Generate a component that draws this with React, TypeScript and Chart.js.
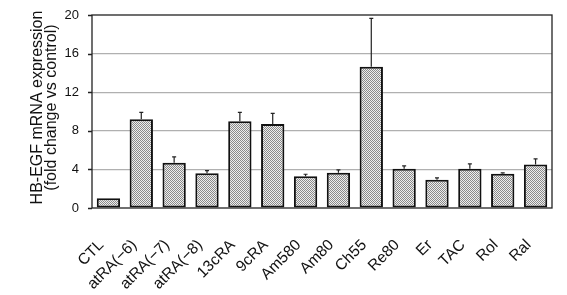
import React, { useEffect, useRef } from "react";
import { Chart, registerables } from "chart.js";

Chart.register(...registerables);

const categories = ["CTL", "atRA(−6)", "atRA(−7)", "atRA(−8)", "13cRA", "9cRA", "Am580", "Am80", "Ch55", "Re80", "Er", "TAC", "Rol", "Ral"];
const means = [1.0, 9.2, 4.7, 3.6, 9.0, 8.7, 3.3, 3.65, 14.65, 4.07, 2.93, 4.07, 3.55, 4.5];
const errors = [0.0, 0.7, 0.6, 0.27, 0.9, 1.1, 0.2, 0.3, 5.0, 0.3, 0.2, 0.5, 0.08, 0.6];
const yTicks = [0, 4, 8, 12, 16, 20];
const yTitleLines = ["HB-EGF mRNA expression", "(fold change vs control)"];

function makePattern(): CanvasPattern | string {
  const c = document.createElement("canvas");
  c.width = 2;
  c.height = 2;
  const g = c.getContext("2d");
  if (!g) return "#bbbbbb";
  g.fillStyle = "#eeeeee";
  g.fillRect(0, 0, 2, 2);
  g.fillStyle = "#8a8a8a";
  g.fillRect(0, 0, 1, 1);
  g.fillRect(1, 1, 1, 1);
  const p = g.createPattern(c, "repeat");
  return p || "#bbbbbb";
}

const errorBarPlugin = {
  id: "errorBars",
  afterDatasetsDraw(chart: any) {
    const ctx = chart.ctx;
    const meta = chart.getDatasetMeta(0);
    const y = chart.scales.y;
    ctx.save();
    ctx.strokeStyle = "#222";
    ctx.lineWidth = 1.2;
    meta.data.forEach((bar: any, i: number) => {
      const e = errors[i];
      if (!e) return;
      const x = bar.x;
      const top = y.getPixelForValue(means[i] + e);
      const base = y.getPixelForValue(means[i]);
      ctx.beginPath();
      ctx.moveTo(x, base);
      ctx.lineTo(x, top);
      ctx.moveTo(x - 2, top);
      ctx.lineTo(x + 2, top);
      ctx.stroke();
    });
    ctx.restore();
  },
};

const frameTicksPlugin = {
  id: "frameTicks",
  afterDraw(chart: any) {
    const ctx = chart.ctx;
    const a = chart.chartArea;
    const y = chart.scales.y;
    ctx.save();
    ctx.strokeStyle = "#222";
    ctx.lineWidth = 1.3;
    ctx.strokeRect(a.left, a.top, a.right - a.left, a.bottom - a.top);
    ctx.beginPath();
    yTicks.forEach((t) => {
      const py = Math.round(y.getPixelForValue(t)) + 0.5;
      ctx.moveTo(a.left - 4, py);
      ctx.lineTo(a.left, py);
    });
    ctx.stroke();
    // y-axis title, two rotated lines
    ctx.fillStyle = "#111";
    ctx.font = "16px 'Liberation Sans'";
    ctx.textAlign = "center";
    ctx.textBaseline = "middle";
    const cy = (a.top + a.bottom) / 2 - 4;
    const xs = [a.left - 54, a.left - 40];
    yTitleLines.forEach((line, i) => {
      ctx.save();
      ctx.translate(xs[i], cy);
      ctx.rotate(-Math.PI / 2);
      ctx.fillText(line, 0, 0);
      ctx.restore();
    });
    ctx.restore();
  },
};

export default function App() {
  const ref = useRef<HTMLCanvasElement>(null);
  useEffect(() => {
    if (!ref.current) return;
    const pattern = makePattern();
    const chart = new Chart(ref.current, {
      type: "bar",
      data: {
        labels: categories,
        datasets: [
          {
            data: means,
            backgroundColor: pattern as any,
            borderColor: "#111",
            borderWidth: 2,
            borderSkipped: false,
            categoryPercentage: 1,
            barPercentage: 0.71,
          },
        ],
      },
      options: {
        animation: false,
        responsive: false,
        maintainAspectRatio: false,
        layout: { padding: { top: 15, right: 15, left: 30, bottom: 0 } },
        plugins: {
          legend: { display: false },
          tooltip: { enabled: false },
        },
        scales: {
          x: {
            grid: { display: false },
            border: { display: false },
            ticks: {
              color: "#111",
              minRotation: 45,
              maxRotation: 45,
              autoSkip: false,
              padding: 20,
              labelOffset: -7,
              font: { family: "Liberation Sans", size: 15.5 },
            },
            afterFit(scale: any) {
              scale.height = 87;
              scale.paddingLeft = 0;
              scale.paddingRight = 0;
            },
          },
          y: {
            min: 0,
            max: 20,
            afterBuildTicks(scale: any) {
              scale.ticks = yTicks.map((v) => ({ value: v }));
            },
            grid: {
              color: (c: any) => (c.tick && (c.tick.value === 0 || c.tick.value === 20) ? "rgba(0,0,0,0)" : "#b0b0b0"),
              lineWidth: 1.2,
              drawTicks: false,
            },
            border: { display: false },
            ticks: {
              color: "#111",
              padding: 13,
              font: { family: "Liberation Sans", size: 13 },
            },
            afterFit(scale: any) {
              scale.width = 62;
              scale.paddingTop = 0;
              scale.paddingBottom = 0;
            },
          },
        },
      },
      plugins: [errorBarPlugin, frameTicksPlugin],
    });
    return () => chart.destroy();
  }, []);
  return (
    <div style={{ position: "fixed", left: 0, top: 0, width: 567, height: 295, background: "#fff" }}>
      <canvas ref={ref} width={567} height={295} style={{ width: 567, height: 295 }} />
    </div>
  );
}
